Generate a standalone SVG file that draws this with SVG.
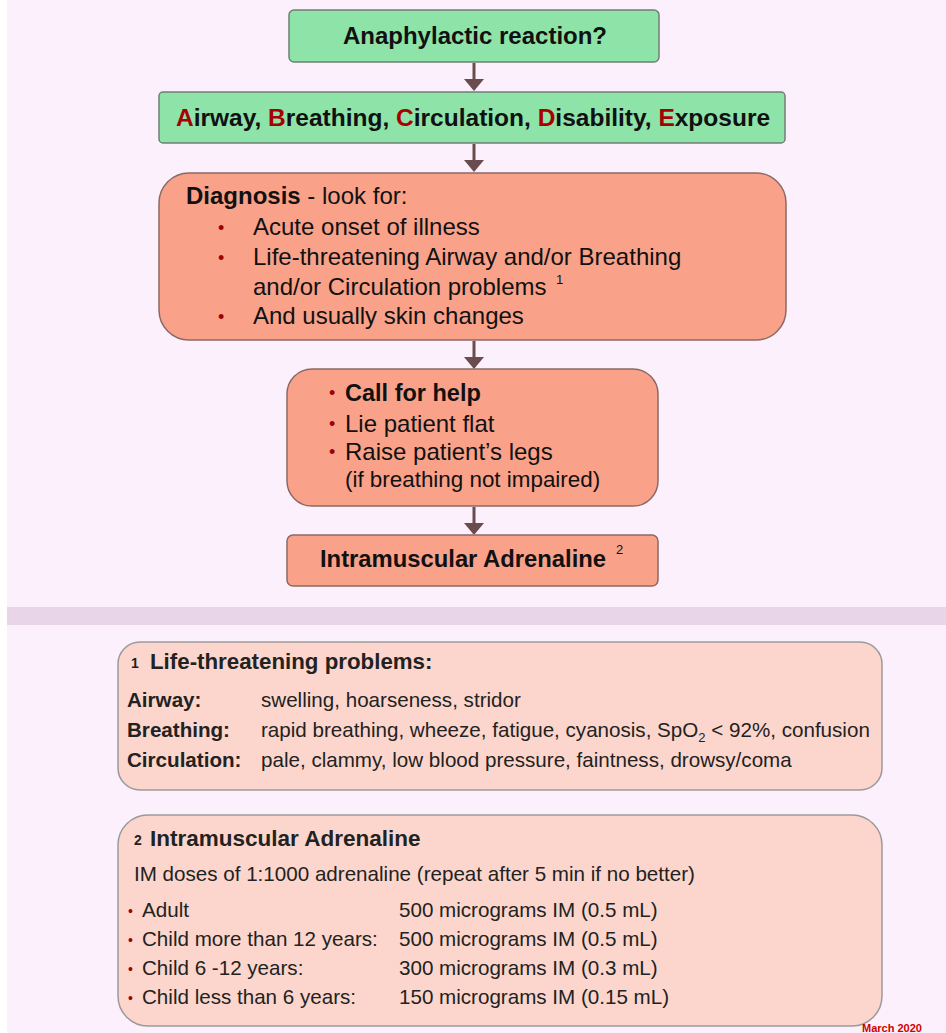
<svg xmlns="http://www.w3.org/2000/svg" width="946" height="1033" viewBox="0 0 946 1033">
<style>
text{font-family:"Liberation Sans",Arial,sans-serif;fill:#111}
.b{font-weight:bold}
.r{fill:#A80000}
.g{fill:#8EE3A9;stroke:#6f7f74;stroke-width:1.5}
.s{fill:#FAA189;stroke:#8a6a66;stroke-width:1.5}
.p{fill:#FCD6CC;stroke:#9a9a9a;stroke-width:1.5}
.bul{fill:#A00000}
.t2{fill:#222}
</style>
<defs>
<path id="ah" d="M-10,0 L10,0 L0,12 Z" fill="#6B4C4E"/>
</defs>
<rect x="0" y="0" width="946" height="1033" fill="#fff"/>
<rect x="7" y="0" width="939" height="1033" fill="#FCF0FC"/>
<rect x="7" y="607" width="939" height="18" fill="#E8D5E8"/>
<g id="connectors">
<g stroke="#6B4C4E" stroke-width="3" fill="none">
<path d="M474,63 V80"/>
<path d="M474,144 V161"/>
<path d="M474,341 V358"/>
<path d="M474,507 V524"/>
</g>
<use href="#ah" x="474" y="79"/>
<use href="#ah" x="474" y="160"/>
<use href="#ah" x="474" y="357"/>
<use href="#ah" x="474" y="523"/>
</g>
<g id="n1">
<rect class="g" x="289" y="10" width="370" height="52" rx="5"/>
<text class="b" x="475" y="44" font-size="24" text-anchor="middle">Anaphylactic reaction?</text>
</g>
<g id="n2">
<rect class="g" x="159" y="92" width="626" height="51" rx="4"/>
<text class="b" x="473" y="126" font-size="24.5" text-anchor="middle"><tspan class="r">A</tspan>irway, <tspan class="r">B</tspan>reathing, <tspan class="r">C</tspan>irculation, <tspan class="r">D</tspan>isability, <tspan class="r">E</tspan>xposure</text>
</g>
<g id="n3">
<rect class="s" x="159" y="173" width="627" height="167" rx="30"/>
<text x="186" y="204" font-size="24"><tspan class="b">Diagnosis</tspan> - look for:</text>
<text class="bul" x="218" y="234" font-size="18">•</text>
<text x="253" y="235" font-size="24">Acute onset of illness</text>
<text class="bul" x="218" y="264" font-size="18">•</text>
<text x="253" y="265" font-size="24">Life-threatening Airway and/or Breathing</text>
<text x="253" y="295" font-size="24">and/or Circulation problems</text>
<text x="556" y="284" font-size="13">1</text>
<text class="bul" x="218" y="323" font-size="18">•</text>
<text x="253" y="324" font-size="24">And usually skin changes</text>
</g>
<g id="n4">
<rect class="s" x="287" y="369" width="371" height="137" rx="25"/>
<text class="bul" x="329" y="399" font-size="18">•</text>
<text class="b" x="345" y="401" font-size="23.5">Call for help</text>
<text class="bul" x="329" y="430" font-size="18">•</text>
<text x="345" y="432" font-size="24">Lie patient flat</text>
<text class="bul" x="329" y="458" font-size="18">•</text>
<text x="345" y="460" font-size="24">Raise patient’s legs</text>
<text x="345" y="487" font-size="22.4">(if breathing not impaired)</text>
</g>
<g id="n5">
<rect class="s" x="287" y="535" width="371" height="51" rx="6"/>
<text class="b" x="320" y="567" font-size="23.8">Intramuscular Adrenaline</text>
<text x="616" y="554" font-size="13">2</text>
</g>
<g id="n6">
<rect class="p" x="118" y="642" width="764" height="148" rx="22"/>
<text class="b t2" x="131" y="668" font-size="14">1</text>
<text class="b t2" x="150" y="669" font-size="22.3">Life-threatening problems:</text>
<text class="b t2" x="127" y="707" font-size="20.6">Airway:</text>
<text class="t2" x="261" y="707" font-size="20.6">swelling, hoarseness, stridor</text>
<text class="b t2" x="127" y="737" font-size="20.6">Breathing:</text>
<text class="t2" x="261" y="737" font-size="20.6">rapid breathing, wheeze, fatigue, cyanosis, SpO<tspan font-size="13" dy="5">2</tspan><tspan dy="-5"> &lt; 92%, confusion</tspan></text>
<text class="b t2" x="127" y="767" font-size="20.6">Circulation:</text>
<text class="t2" x="261" y="767" font-size="20.6">pale, clammy, low blood pressure, faintness, drowsy/coma</text>
</g>
<g id="n7">
<rect class="p" x="118" y="815" width="764" height="211" rx="30"/>
<text class="b t2" x="134" y="845" font-size="14">2</text>
<text class="b t2" x="150" y="846" font-size="22.5">Intramuscular Adrenaline</text>
<text class="t2" x="134" y="881" font-size="20.6">IM doses of 1:1000 adrenaline (repeat after 5 min if no better)</text>
<g font-size="20.6">
<text class="bul" x="128" y="916" font-size="14">•</text>
<text class="t2" x="142" y="917">Adult</text>
<text class="t2" x="399" y="917">500 micrograms IM (0.5 mL)</text>
<text class="bul" x="128" y="945" font-size="14">•</text>
<text class="t2" x="142" y="946">Child more than 12 years:</text>
<text class="t2" x="399" y="946">500 micrograms IM (0.5 mL)</text>
<text class="bul" x="128" y="974" font-size="14">•</text>
<text class="t2" x="142" y="975">Child 6 -12 years:</text>
<text class="t2" x="399" y="975">300 micrograms IM (0.3 mL)</text>
<text class="bul" x="128" y="1003" font-size="14">•</text>
<text class="t2" x="142" y="1004">Child less than 6 years:</text>
<text class="t2" x="399" y="1004">150 micrograms IM (0.15 mL)</text>
</g>
</g>
<text class="b" x="862" y="1032" font-size="11" style="fill:#D00000">March 2020</text>
</svg>
